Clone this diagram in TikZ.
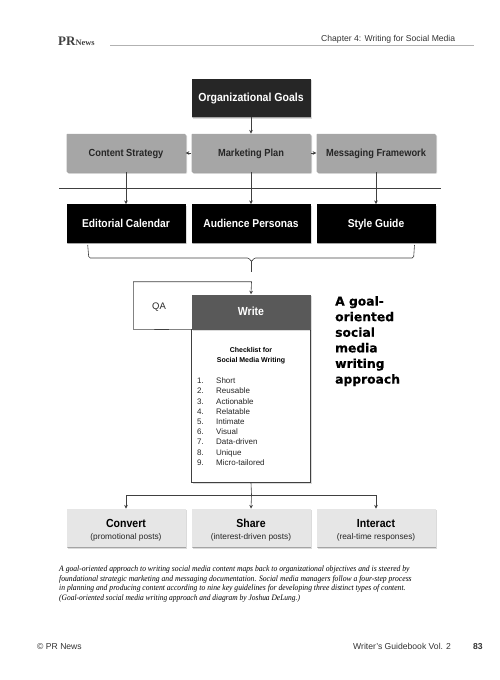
\documentclass[tikz,border=0pt]{standalone}
\usepackage{fontspec}
\usepackage{graphicx}
\setmainfont{Liberation Sans}
\newfontfamily\capfont{Liberation Serif}
\newfontfamily\logofont{Liberation Serif}
\newfontfamily\headfont[BoldFeatures={FakeBold=0.4}]{DejaVu Sans}
\newfontfamily\boxfont[FakeStretch=0.9]{Liberation Sans}
\usetikzlibrary{shadows,arrows.meta}
\definecolor{goalfill}{HTML}{262626}
\definecolor{midfill}{HTML}{A6A6A6}
\definecolor{writefill}{HTML}{595959}
\definecolor{outfill}{HTML}{E6E6E6}
\definecolor{linegray}{HTML}{404040}
\tikzset{
  softshadow/.style={
    drop shadow={shadow xshift=1.5pt,shadow yshift=-1.5pt,opacity=.14,fill=black},
    drop shadow={shadow xshift=0.8pt,shadow yshift=-0.8pt,opacity=.25,fill=black}},
  boxbase/.style={inner sep=0pt,minimum width=119pt,minimum height=38.5pt,align=center,text height=7.5pt,text depth=0pt,softshadow},
  goalbox/.style={boxbase,fill=goalfill,text=white,font=\boxfont\bfseries\fontsize{11.7}{12}\selectfont},
  midbox/.style={boxbase,fill=midfill,rounded corners=0.8pt,text=black!85,font=\boxfont\bfseries\fontsize{10.3}{11}\selectfont},
  blackbox/.style={boxbase,fill=black,text=white,font=\boxfont\bfseries\fontsize{11.4}{12}\selectfont},
  writebox/.style={boxbase,minimum height=35pt,fill=writefill,text=white,font=\boxfont\bfseries\fontsize{11.7}{12}\selectfont},
  outbox/.style={inner sep=0pt,minimum width=119pt,minimum height=38.5pt,softshadow,fill=outfill},
  outhead/.style={anchor=base,inner sep=0pt,font=\boxfont\bfseries\fontsize{11.7}{13}\selectfont},
  outsub/.style={anchor=base,inner sep=0pt,font=\fontsize{8.3}{10}\selectfont,text=black!85},
  arrowline/.style={draw=linegray,line width=0.6pt,-{Stealth[length=3.6pt,width=3.6pt]}},
  plainline/.style={draw=linegray,line width=0.6pt},
  listnum/.style={anchor=base west,inner sep=0pt,font=\fontsize{8}{10}\selectfont,text=black!85},
  pagetext/.style={anchor=base west,inner sep=0pt,font=\fontsize{8.6}{10}\selectfont,text=black!80},
  caption/.style={anchor=base west,inner sep=0pt,font=\capfont\itshape\fontsize{8.3}{9.6}\selectfont},
}
\begin{document}
\begin{tikzpicture}[x=1pt,y=-1pt]
\useasboundingbox (0,0) rectangle (500,680);
% header
\node[anchor=base west,inner sep=0pt,text=black!75] (logo) at (58,45) {\logofont\bfseries\fontsize{13}{14}\selectfont PR\fontsize{8.4}{9}\selectfont News};
\coordinate (hl) at (110,45.5); \coordinate (hr) at (474,45.5);
\draw[black!30,line width=0.6pt] (hl) -- (hr);
\node[pagetext] (chapter) at (321,41.5) {Chapter 4: Writing for Social Media};
% top rows
\node[goalbox] (goals) at (251,98) {Organizational Goals};
\node[midbox] (content) at (126,153) {Content Strategy};
\node[midbox] (plan) at (251,153) {Marketing Plan};
\node[midbox] (framework) at (376,153) {Messaging Framework};
\coordinate (rl) at (59,188.3); \coordinate (rr) at (441,188.3);
\draw[plainline] (rl) -- (rr);
\node[blackbox] (calendar) at (126,223.5) {Editorial Calendar};
\node[blackbox] (personas) at (251,223.5) {Audience Personas};
\node[blackbox] (guide) at (376,223.5) {Style Guide};
\draw[arrowline] (goals) -- (plan);
\draw[arrowline] (plan) -- (content);
\draw[arrowline] (plan) -- (framework);
\draw[arrowline] (content) -- (calendar);
\draw[arrowline] (plan) -- (personas);
\draw[arrowline] (framework) -- (guide);
% brace
\coordinate (bl) at (87.7,245); \coordinate (br) at (414.5,245); \coordinate (bt) at (251.5,272);
\draw[plainline,rounded corners=1.5pt] (bl) -- (88.8,258) -- (249,258) -- (251.5,262) -- (254,258) -- (413.6,258) -- (br);
\draw[plainline] (251.5,261) -- (bt);
% write
\node[draw=linegray,line width=0.6pt,fill=white,minimum width=119pt,minimum height=153pt,inner sep=0pt,softshadow] (checklist) at (251,406) {};
\node[writebox] (write) at (251,312) {Write};
\coordinate (qbl) at (133.3,329.3); \coordinate (qtl) at (133.3,281.7); \coordinate (qtr) at (251.5,281.7);
\draw[plainline] (write.south west) -- (qbl) -- (qtl) -- (qtr);
\draw[arrowline] (qtr) -- (write.north);
\node[anchor=base,inner sep=0pt,font=\fontsize{9.5}{10}\selectfont,text=black!85] (qa) at (159,309.5) {QA};
\node[align=center,inner sep=0pt,font=\bfseries\fontsize{7}{10.2}\selectfont] (title) at (251,355.5) {Checklist for\\Social Media Writing};
\foreach \n/\t [count=\i from 0] in {1./Short,2./Reusable,3./Actionable,4./Relatable,5./Intimate,6./Visual,7./Data-driven,8./Unique,9./Micro-tailored}{
  \node[listnum] (num\i) at (197,{383.7+10.2*\i}) {\n};
  \node[listnum] (item\i) at (216,{383.7+10.2*\i}) {\t};
}
% heading
\node[anchor=north west,inner sep=0pt,align=left,font=\headfont\bfseries\fontsize{12.3}{15.6}\selectfont] (heading) at (335,296) {A goal-\\oriented\\social\\media\\writing\\approach};
% outputs
\node[outbox] (convert) at (126,528) {};
\node[outbox] (share) at (251,528) {};
\node[outbox] (interact) at (376,528) {};
\node[outhead] (convertH) at (126,527) {Convert};
\node[outsub] (convertS) at (126,539.5) {(promotional posts)};
\node[outhead] (shareH) at (251,527) {Share};
\node[outsub] (shareS) at (251,539.5) {(interest-driven posts)};
\node[outhead] (interactH) at (376,527) {Interact};
\node[outsub] (interactS) at (376,539.5) {(real-time responses)};
\coordinate (sp) at (251.5,495);
\draw[plainline] (checklist.south) -- (sp);
\draw[arrowline] (sp) -- (share.north);
\draw[arrowline] (sp) -| (convert.north);
\draw[arrowline] (sp) -| (interact.north);
% caption
\node[caption] (c1) at (59,571.5) {\scalebox{0.92}[1]{A goal-oriented approach to writing social media content maps back to organizational objectives and is steered by}};
\node[caption] (c2) at (59,581) {\scalebox{0.92}[1]{foundational strategic marketing and messaging documentation. Social media managers follow a four-step process}};
\node[caption] (c3) at (59,590.6) {\scalebox{0.92}[1]{in planning and producing content according to nine key guidelines for developing three distinct types of content.}};
\node[caption] (c4) at (59,600.2) {\scalebox{0.9}[1]{(Goal-oriented social media writing approach and diagram by Joshua DeLung.)}};
% footer
\node[pagetext] (f1) at (37,649) {© PR News};
\node[pagetext] (f2) at (353,649) {Writer's Guidebook Vol. 2};
\node[pagetext,font=\bfseries\fontsize{8.6}{10}\selectfont] (f3) at (473,649) {83};
\end{tikzpicture}
\end{document}
